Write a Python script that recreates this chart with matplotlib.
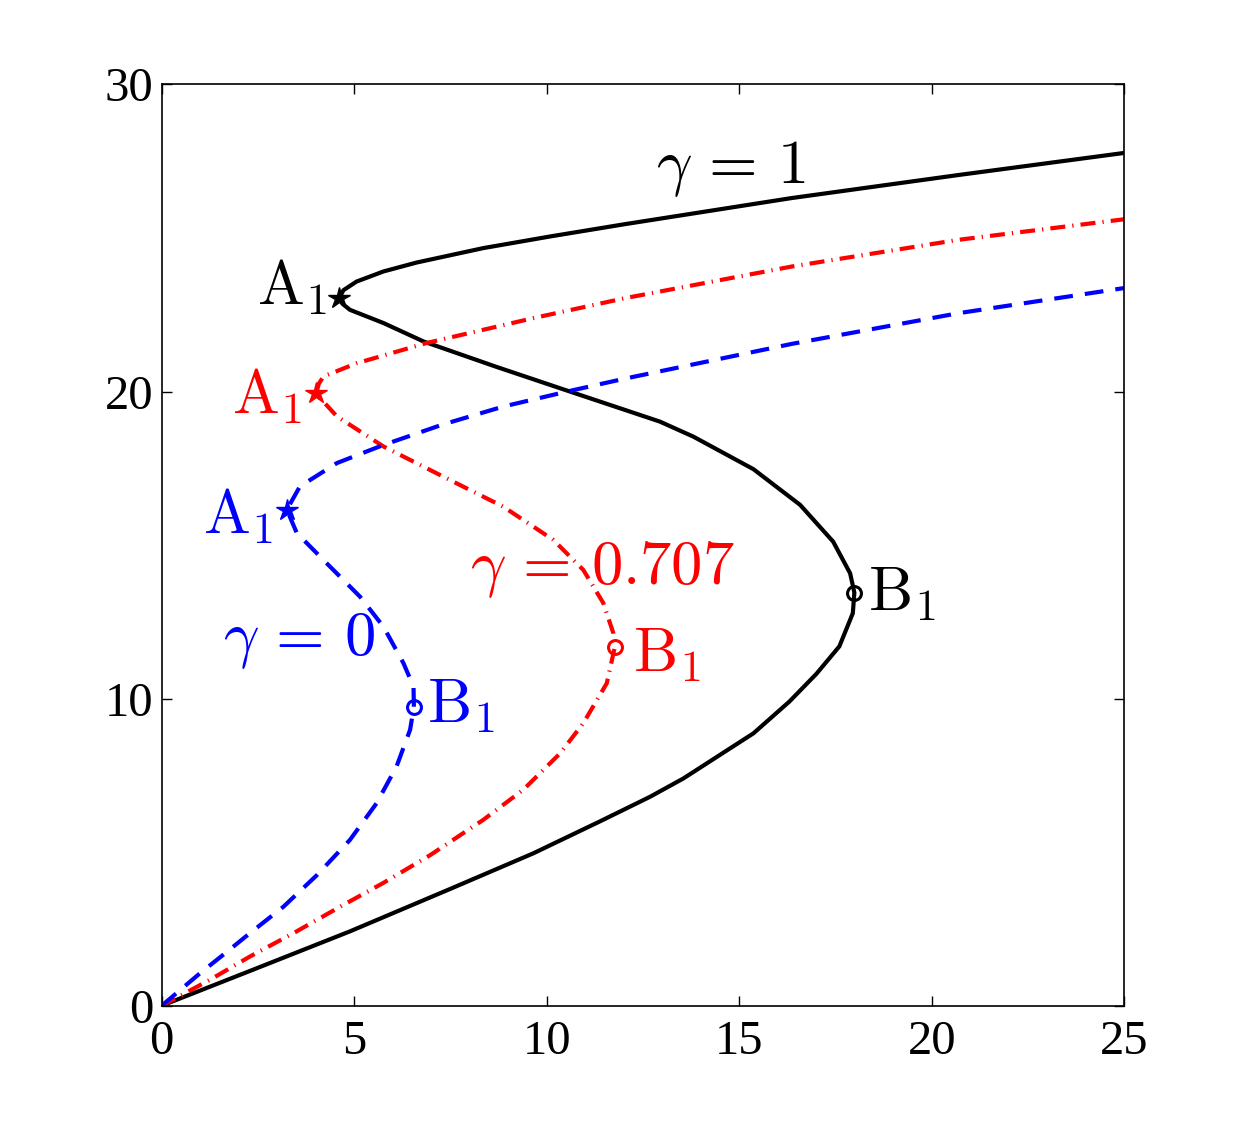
import matplotlib
matplotlib.use("Agg")
import matplotlib.pyplot as plt

plt.rcParams['font.family'] = ['Liberation Serif', 'DejaVu Serif']
plt.rcParams['mathtext.fontset'] = 'cm'

# gamma = 1 (black, solid)
g1_x = [0, 2.29, 4.89, 7.49, 9.65, 11.38, 12.68, 13.55, 15.37, 16.3, 17.0, 17.6, 17.95, 17.99,
        17.88, 17.44, 16.58, 15.37, 13.81, 12.94, 10.6, 8.7, 6.8, 5.76, 4.89, 4.7, 4.61,
        4.72, 5.06, 5.76, 6.62, 8.35, 10.09, 12.03, 16.36, 20.69, 25.0]
g1_y = [0, 1.13, 2.42, 3.8, 4.96, 6.0, 6.8, 7.4, 8.87, 9.9, 10.8, 11.7, 12.78, 13.45,
        14.08, 15.11, 16.31, 17.47, 18.53, 19.02, 20.0, 20.8, 21.63, 22.23, 22.66, 22.85, 23.04,
        23.3, 23.58, 23.91, 24.2, 24.67, 25.05, 25.45, 26.3, 27.05, 27.77]

# gamma = 0.707 (red, dash-dot)
g2_x = [0, 1.25, 2.29, 3.42, 4.63, 5.76, 6.97, 8.35, 9.39, 10.35, 10.95, 11.56, 11.77,
        11.73, 11.47, 10.95, 10.17, 8.87, 7.31, 5.76, 4.55, 4.01,
        4.08, 4.2, 5.06, 6.88, 9.65, 12.03, 16.36, 20.69, 25.0]
g2_y = [0, 0.84, 1.6, 2.36, 3.22, 4.0, 4.9, 6.05, 7.03, 8.22, 9.2, 10.5, 11.69,
        12.13, 13.11, 14.19, 15.17, 16.25, 17.23, 18.21, 19.19, 19.93,
        20.25, 20.49, 20.92, 21.58, 22.39, 23.04, 24.07, 24.94, 25.61]

# gamma = 0 (blue, dashed)
g0_x = [0, 0.99, 1.69, 2.29, 3.16, 4.03, 4.89, 5.58, 6.1, 6.45, 6.55,
        6.54, 6.28, 5.76, 5.15, 4.37, 3.51, 3.25,
        3.59, 4.55, 5.76, 7.31, 8.87, 10.6, 12.03, 16.36, 20.69, 25.0]
g0_y = [0, 1.05, 1.75, 2.36, 3.22, 4.25, 5.4, 6.59, 7.79, 8.98, 9.72,
        10.39, 11.15, 12.34, 13.32, 14.3, 15.39, 16.15,
        16.91, 17.67, 18.26, 18.93, 19.51, 20.02, 20.42, 21.55, 22.55, 23.37]

# fold points (A1 = star, B1 = circle)
a1 = {'k': (4.61, 23.04), 'r': (4.0, 19.95), 'b': (3.25, 16.15)}
b1 = {'k': (17.99, 13.45), 'r': (11.77, 11.69), 'b': (6.55, 9.72)}

fig = plt.figure(figsize=(12.42, 11.32), dpi=100)
ax = fig.add_axes([0.1302, 0.1116, 0.7750, 0.8138])

ax.plot(g1_x, g1_y, color='k', lw=3, solid_joinstyle='round')
ax.plot(g2_x, g2_y, color='r', lw=3, linestyle=(0, (3.6, 1.7, 0.3, 1.7)))
ax.plot(g0_x, g0_y, color='b', lw=3, linestyle=(0, (4.5, 2.9)))

fs = 45
for c in ['k', 'r', 'b']:
    ax.plot(*a1[c], marker='*', color=c, ms=16, mew=1, ls='none')
    ax.plot(*b1[c], marker='o', mec=c, mfc='none', ms=10, mew=2.2, ls='none')

# labels next to fold points (pixel offsets)
a1_off = {'k': (-12, -6), 'r': (-14, -20), 'b': (-14, -24)}
b1_off = {'k': (14, -18), 'r': (18, -25), 'b': (13, -15)}
for c in ['k', 'r', 'b']:
    ax.annotate(r'$\mathrm{A}_1$', a1[c], xytext=a1_off[c], textcoords='offset pixels',
                ha='right', va='baseline', color=c, fontsize=fs)
    ax.annotate(r'$\mathrm{B}_1$', b1[c], xytext=b1_off[c], textcoords='offset pixels',
                ha='left', va='baseline', color=c, fontsize=fs)

ax.text(12.85, 26.79, r'$\gamma\,=\,1$', color='k', fontsize=fs, ha='left', va='baseline')
ax.text(8.0, 13.72, r'$\gamma\,=\,0.707$', color='r', fontsize=fs, ha='left', va='baseline')
ax.text(1.58, 11.42, r'$\gamma\,=\,0$', color='b', fontsize=fs, ha='left', va='baseline')

ax.set_xlim(0, 25)
ax.set_ylim(0, 30)
ax.set_xticks([0, 5, 10, 15, 20, 25])
ax.set_yticks([0, 10, 20, 30])
ax.tick_params(direction='in', length=7, width=1, top=True, right=True, labelsize=35)
ax.tick_params(axis='x', pad=10)
ax.tick_params(axis='y', pad=6)
for s in ax.spines.values():
    s.set_linewidth(1.2)

fig.savefig('out.png', dpi=100)
